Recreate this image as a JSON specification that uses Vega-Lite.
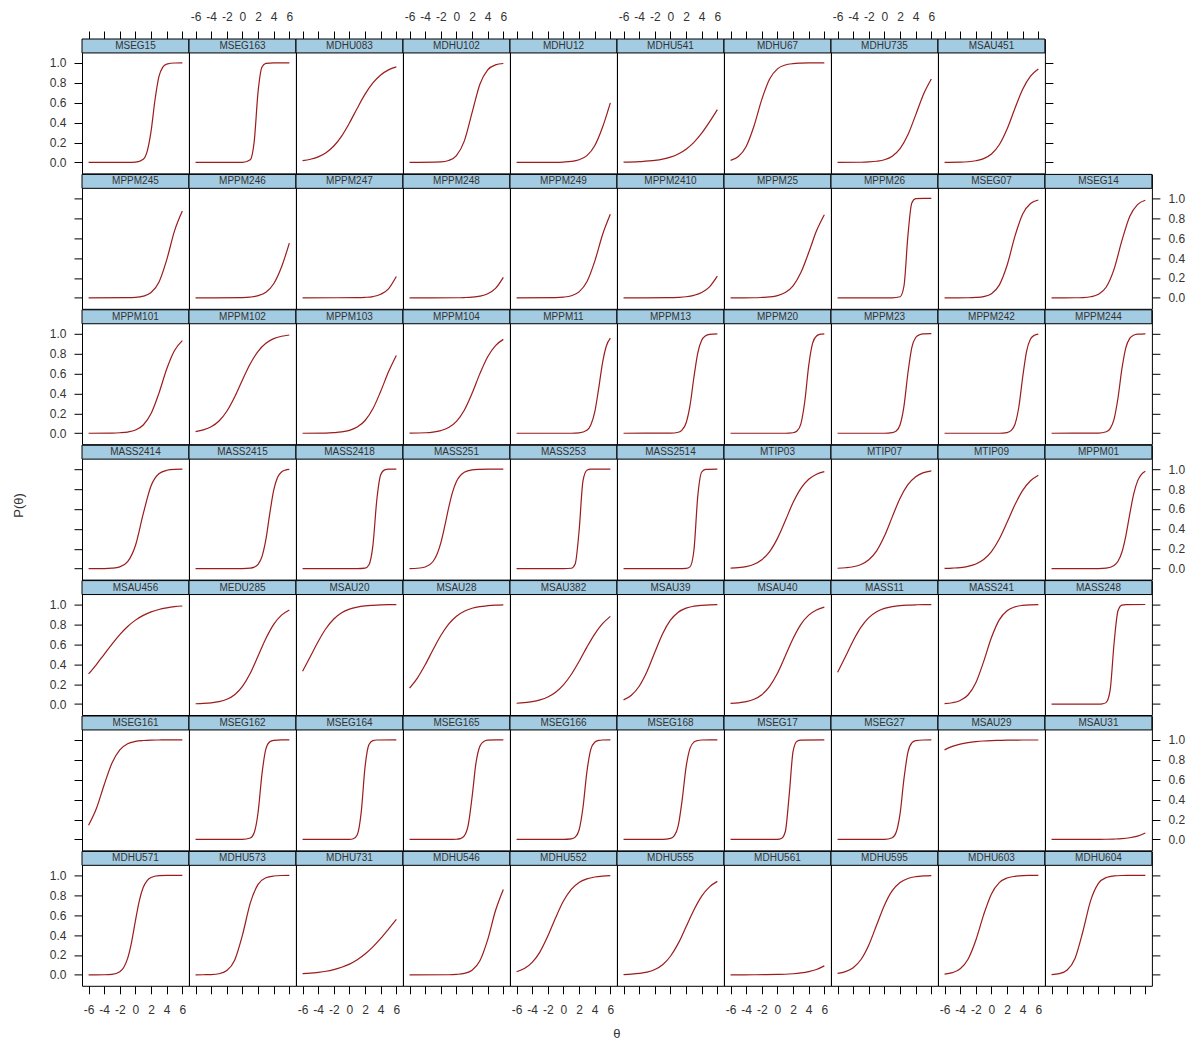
{
"$schema":"https://vega.github.io/schema/vega-lite/v6.json",
"padding":{"left":12,"top":9,"right":0,"bottom":0},
"data":{"values":[
{"i":"MSEG15","x":-6,"p":0},{"i":"MSEG15","x":-1,"p":0},{"i":"MSEG15","x":0,"p":0.003},{"i":"MSEG15","x":1,"p":0.033},{"i":"MSEG15","x":1.5,"p":0.111},{"i":"MSEG15","x":2,"p":0.314},{"i":"MSEG15","x":2.5,"p":0.627},{"i":"MSEG15","x":3,"p":0.861},{"i":"MSEG15","x":3.5,"p":0.958},{"i":"MSEG15","x":4,"p":0.988},{"i":"MSEG15","x":5,"p":0.999},{"i":"MSEG15","x":6,"p":1},
{"i":"MSEG163","x":-6,"p":0},{"i":"MSEG163","x":0,"p":0},{"i":"MSEG163","x":1,"p":0.027},{"i":"MSEG163","x":1.5,"p":0.206},{"i":"MSEG163","x":2,"p":0.711},{"i":"MSEG163","x":2.5,"p":0.959},{"i":"MSEG163","x":3,"p":0.995},{"i":"MSEG163","x":4,"p":1},{"i":"MSEG163","x":6,"p":1},
{"i":"MDHU083","x":-6,"p":0.018},{"i":"MDHU083","x":-5,"p":0.032},{"i":"MDHU083","x":-4,"p":0.056},{"i":"MDHU083","x":-3,"p":0.098},{"i":"MDHU083","x":-2,"p":0.165},{"i":"MDHU083","x":-1,"p":0.265},{"i":"MDHU083","x":0,"p":0.397},{"i":"MDHU083","x":1,"p":0.545},{"i":"MDHU083","x":2,"p":0.686},{"i":"MDHU083","x":3,"p":0.799},{"i":"MDHU083","x":4,"p":0.879},{"i":"MDHU083","x":5,"p":0.93},{"i":"MDHU083","x":6,"p":0.96},
{"i":"MDHU102","x":-6,"p":0},{"i":"MDHU102","x":-2,"p":0.005},{"i":"MDHU102","x":-1,"p":0.02},{"i":"MDHU102","x":0,"p":0.069},{"i":"MDHU102","x":1,"p":0.214},{"i":"MDHU102","x":2,"p":0.5},{"i":"MDHU102","x":3,"p":0.786},{"i":"MDHU102","x":4,"p":0.931},{"i":"MDHU102","x":5,"p":0.98},{"i":"MDHU102","x":6,"p":0.994},
{"i":"MDHU12","x":-6,"p":0},{"i":"MDHU12","x":-1,"p":0.001},{"i":"MDHU12","x":0,"p":0.004},{"i":"MDHU12","x":1,"p":0.01},{"i":"MDHU12","x":2,"p":0.027},{"i":"MDHU12","x":3,"p":0.069},{"i":"MDHU12","x":4,"p":0.168},{"i":"MDHU12","x":5,"p":0.354},{"i":"MDHU12","x":6,"p":0.599},
{"i":"MDHU541","x":-6,"p":0.003},{"i":"MDHU541","x":-4,"p":0.008},{"i":"MDHU541","x":-2,"p":0.02},{"i":"MDHU541","x":-1,"p":0.033},{"i":"MDHU541","x":0,"p":0.053},{"i":"MDHU541","x":1,"p":0.085},{"i":"MDHU541","x":2,"p":0.133},{"i":"MDHU541","x":3,"p":0.202},{"i":"MDHU541","x":4,"p":0.294},{"i":"MDHU541","x":5,"p":0.407},{"i":"MDHU541","x":6,"p":0.531},
{"i":"MDHU67","x":-6,"p":0.021},{"i":"MDHU67","x":-5,"p":0.06},{"i":"MDHU67","x":-4,"p":0.161},{"i":"MDHU67","x":-3,"p":0.366},{"i":"MDHU67","x":-2,"p":0.634},{"i":"MDHU67","x":-1,"p":0.839},{"i":"MDHU67","x":0,"p":0.94},{"i":"MDHU67","x":1,"p":0.979},{"i":"MDHU67","x":2,"p":0.993},{"i":"MDHU67","x":3,"p":0.998},{"i":"MDHU67","x":4,"p":1},{"i":"MDHU67","x":6,"p":1},
{"i":"MDHU735","x":-6,"p":0},{"i":"MDHU735","x":-3,"p":0.002},{"i":"MDHU735","x":-2,"p":0.005},{"i":"MDHU735","x":-1,"p":0.012},{"i":"MDHU735","x":0,"p":0.027},{"i":"MDHU735","x":1,"p":0.063},{"i":"MDHU735","x":2,"p":0.138},{"i":"MDHU735","x":3,"p":0.277},{"i":"MDHU735","x":4,"p":0.478},{"i":"MDHU735","x":5,"p":0.686},{"i":"MDHU735","x":6,"p":0.839},
{"i":"MSAU451","x":-6,"p":0.001},{"i":"MSAU451","x":-4,"p":0.003},{"i":"MSAU451","x":-3,"p":0.007},{"i":"MSAU451","x":-2,"p":0.017},{"i":"MSAU451","x":-1,"p":0.038},{"i":"MSAU451","x":0,"p":0.085},{"i":"MSAU451","x":1,"p":0.178},{"i":"MSAU451","x":2,"p":0.336},{"i":"MSAU451","x":3,"p":0.542},{"i":"MSAU451","x":4,"p":0.735},{"i":"MSAU451","x":5,"p":0.866},{"i":"MSAU451","x":6,"p":0.938},
{"i":"MPPM245","x":-6,"p":0},{"i":"MPPM245","x":-1,"p":0.002},{"i":"MPPM245","x":0,"p":0.005},{"i":"MPPM245","x":1,"p":0.017},{"i":"MPPM245","x":2,"p":0.053},{"i":"MPPM245","x":3,"p":0.157},{"i":"MPPM245","x":4,"p":0.382},{"i":"MPPM245","x":5,"p":0.673},{"i":"MPPM245","x":6,"p":0.872},
{"i":"MPPM246","x":-6,"p":0},{"i":"MPPM246","x":0,"p":0.003},{"i":"MPPM246","x":1,"p":0.008},{"i":"MPPM246","x":2,"p":0.022},{"i":"MPPM246","x":3,"p":0.057},{"i":"MPPM246","x":4,"p":0.142},{"i":"MPPM246","x":5,"p":0.31},{"i":"MPPM246","x":6,"p":0.55},
{"i":"MPPM247","x":-6,"p":0},{"i":"MPPM247","x":1,"p":0.002},{"i":"MPPM247","x":2,"p":0.005},{"i":"MPPM247","x":3,"p":0.013},{"i":"MPPM247","x":4,"p":0.036},{"i":"MPPM247","x":5,"p":0.091},{"i":"MPPM247","x":6,"p":0.214},
{"i":"MPPM248","x":-6,"p":0},{"i":"MPPM248","x":0,"p":0.001},{"i":"MPPM248","x":1,"p":0.003},{"i":"MPPM248","x":2,"p":0.007},{"i":"MPPM248","x":3,"p":0.017},{"i":"MPPM248","x":4,"p":0.041},{"i":"MPPM248","x":5,"p":0.095},{"i":"MPPM248","x":6,"p":0.206},
{"i":"MPPM249","x":-6,"p":0},{"i":"MPPM249","x":-1,"p":0.002},{"i":"MPPM249","x":0,"p":0.007},{"i":"MPPM249","x":1,"p":0.021},{"i":"MPPM249","x":2,"p":0.06},{"i":"MPPM249","x":3,"p":0.161},{"i":"MPPM249","x":4,"p":0.366},{"i":"MPPM249","x":5,"p":0.634},{"i":"MPPM249","x":6,"p":0.839},
{"i":"MPPM2410","x":-6,"p":0},{"i":"MPPM2410","x":0,"p":0.002},{"i":"MPPM2410","x":1,"p":0.005},{"i":"MPPM2410","x":2,"p":0.011},{"i":"MPPM2410","x":3,"p":0.025},{"i":"MPPM2410","x":4,"p":0.053},{"i":"MPPM2410","x":5,"p":0.111},{"i":"MPPM2410","x":6,"p":0.218},
{"i":"MPPM25","x":-6,"p":0},{"i":"MPPM25","x":-3,"p":0.001},{"i":"MPPM25","x":-2,"p":0.004},{"i":"MPPM25","x":-1,"p":0.009},{"i":"MPPM25","x":0,"p":0.022},{"i":"MPPM25","x":1,"p":0.053},{"i":"MPPM25","x":2,"p":0.121},{"i":"MPPM25","x":3,"p":0.254},{"i":"MPPM25","x":4,"p":0.455},{"i":"MPPM25","x":5,"p":0.673},{"i":"MPPM25","x":6,"p":0.835},
{"i":"MPPM26","x":-6,"p":0},{"i":"MPPM26","x":1,"p":0},{"i":"MPPM26","x":2,"p":0.011},{"i":"MPPM26","x":2.5,"p":0.119},{"i":"MPPM26","x":3,"p":0.622},{"i":"MPPM26","x":3.5,"p":0.953},{"i":"MPPM26","x":4,"p":0.996},{"i":"MPPM26","x":5,"p":1},{"i":"MPPM26","x":6,"p":1},
{"i":"MSEG07","x":-6,"p":0},{"i":"MSEG07","x":-3,"p":0.001},{"i":"MSEG07","x":-2,"p":0.004},{"i":"MSEG07","x":-1,"p":0.013},{"i":"MSEG07","x":0,"p":0.042},{"i":"MSEG07","x":1,"p":0.128},{"i":"MSEG07","x":2,"p":0.327},{"i":"MSEG07","x":3,"p":0.618},{"i":"MSEG07","x":4,"p":0.843},{"i":"MSEG07","x":5,"p":0.947},{"i":"MSEG07","x":6,"p":0.983},
{"i":"MSEG14","x":-6,"p":0},{"i":"MSEG14","x":-3,"p":0.001},{"i":"MSEG14","x":-2,"p":0.003},{"i":"MSEG14","x":-1,"p":0.011},{"i":"MSEG14","x":0,"p":0.036},{"i":"MSEG14","x":1,"p":0.109},{"i":"MSEG14","x":2,"p":0.289},{"i":"MSEG14","x":3,"p":0.574},{"i":"MSEG14","x":4,"p":0.818},{"i":"MSEG14","x":5,"p":0.937},{"i":"MSEG14","x":6,"p":0.98},
{"i":"MPPM101","x":-6,"p":0},{"i":"MPPM101","x":-3,"p":0.002},{"i":"MPPM101","x":-2,"p":0.005},{"i":"MPPM101","x":-1,"p":0.012},{"i":"MPPM101","x":0,"p":0.032},{"i":"MPPM101","x":1,"p":0.083},{"i":"MPPM101","x":2,"p":0.198},{"i":"MPPM101","x":3,"p":0.401},{"i":"MPPM101","x":4,"p":0.646},{"i":"MPPM101","x":5,"p":0.832},{"i":"MPPM101","x":6,"p":0.931},
{"i":"MPPM102","x":-6,"p":0.017},{"i":"MPPM102","x":-5,"p":0.034},{"i":"MPPM102","x":-4,"p":0.065},{"i":"MPPM102","x":-3,"p":0.123},{"i":"MPPM102","x":-2,"p":0.221},{"i":"MPPM102","x":-1,"p":0.364},{"i":"MPPM102","x":0,"p":0.535},{"i":"MPPM102","x":1,"p":0.698},{"i":"MPPM102","x":2,"p":0.823},{"i":"MPPM102","x":3,"p":0.904},{"i":"MPPM102","x":4,"p":0.95},{"i":"MPPM102","x":5,"p":0.974},{"i":"MPPM102","x":6,"p":0.987},
{"i":"MPPM103","x":-6,"p":0},{"i":"MPPM103","x":-3,"p":0.002},{"i":"MPPM103","x":-2,"p":0.006},{"i":"MPPM103","x":-1,"p":0.013},{"i":"MPPM103","x":0,"p":0.029},{"i":"MPPM103","x":1,"p":0.062},{"i":"MPPM103","x":2,"p":0.128},{"i":"MPPM103","x":3,"p":0.246},{"i":"MPPM103","x":4,"p":0.421},{"i":"MPPM103","x":5,"p":0.618},{"i":"MPPM103","x":6,"p":0.782},
{"i":"MPPM104","x":-6,"p":0.001},{"i":"MPPM104","x":-4,"p":0.005},{"i":"MPPM104","x":-3,"p":0.012},{"i":"MPPM104","x":-2,"p":0.027},{"i":"MPPM104","x":-1,"p":0.057},{"i":"MPPM104","x":0,"p":0.119},{"i":"MPPM104","x":1,"p":0.231},{"i":"MPPM104","x":2,"p":0.401},{"i":"MPPM104","x":3,"p":0.599},{"i":"MPPM104","x":4,"p":0.769},{"i":"MPPM104","x":5,"p":0.881},{"i":"MPPM104","x":6,"p":0.943},
{"i":"MPPM11","x":-6,"p":0},{"i":"MPPM11","x":1,"p":0},{"i":"MPPM11","x":2,"p":0.003},{"i":"MPPM11","x":3,"p":0.029},{"i":"MPPM11","x":3.5,"p":0.082},{"i":"MPPM11","x":4,"p":0.211},{"i":"MPPM11","x":4.5,"p":0.445},{"i":"MPPM11","x":5,"p":0.707},{"i":"MPPM11","x":5.5,"p":0.879},{"i":"MPPM11","x":6,"p":0.956},
{"i":"MPPM13","x":-6,"p":0},{"i":"MPPM13","x":0,"p":0.001},{"i":"MPPM13","x":1,"p":0.01},{"i":"MPPM13","x":1.5,"p":0.034},{"i":"MPPM13","x":2,"p":0.103},{"i":"MPPM13","x":2.5,"p":0.277},{"i":"MPPM13","x":3,"p":0.56},{"i":"MPPM13","x":3.5,"p":0.808},{"i":"MPPM13","x":4,"p":0.933},{"i":"MPPM13","x":4.5,"p":0.979},{"i":"MPPM13","x":5,"p":0.994},{"i":"MPPM13","x":6,"p":0.999},
{"i":"MPPM20","x":-6,"p":0},{"i":"MPPM20","x":1,"p":0},{"i":"MPPM20","x":2,"p":0.005},{"i":"MPPM20","x":2.5,"p":0.023},{"i":"MPPM20","x":3,"p":0.095},{"i":"MPPM20","x":3.5,"p":0.321},{"i":"MPPM20","x":4,"p":0.679},{"i":"MPPM20","x":4.5,"p":0.905},{"i":"MPPM20","x":5,"p":0.977},{"i":"MPPM20","x":5.5,"p":0.995},{"i":"MPPM20","x":6,"p":0.999},
{"i":"MPPM23","x":-6,"p":0},{"i":"MPPM23","x":0,"p":0},{"i":"MPPM23","x":1,"p":0.006},{"i":"MPPM23","x":1.5,"p":0.022},{"i":"MPPM23","x":2,"p":0.085},{"i":"MPPM23","x":2.5,"p":0.273},{"i":"MPPM23","x":3,"p":0.603},{"i":"MPPM23","x":3.5,"p":0.861},{"i":"MPPM23","x":4,"p":0.962},{"i":"MPPM23","x":4.5,"p":0.99},{"i":"MPPM23","x":5,"p":0.998},{"i":"MPPM23","x":6,"p":1},
{"i":"MPPM242","x":-6,"p":0},{"i":"MPPM242","x":1,"p":0},{"i":"MPPM242","x":2,"p":0.007},{"i":"MPPM242","x":2.5,"p":0.026},{"i":"MPPM242","x":3,"p":0.088},{"i":"MPPM242","x":3.5,"p":0.261},{"i":"MPPM242","x":4,"p":0.565},{"i":"MPPM242","x":4.5,"p":0.826},{"i":"MPPM242","x":5,"p":0.946},{"i":"MPPM242","x":5.5,"p":0.985},{"i":"MPPM242","x":6,"p":0.996},
{"i":"MPPM244","x":-6,"p":0},{"i":"MPPM244","x":0,"p":0.001},{"i":"MPPM244","x":1,"p":0.015},{"i":"MPPM244","x":1.5,"p":0.047},{"i":"MPPM244","x":2,"p":0.142},{"i":"MPPM244","x":2.5,"p":0.354},{"i":"MPPM244","x":3,"p":0.646},{"i":"MPPM244","x":3.5,"p":0.858},{"i":"MPPM244","x":4,"p":0.953},{"i":"MPPM244","x":4.5,"p":0.985},{"i":"MPPM244","x":5,"p":0.995},{"i":"MPPM244","x":6,"p":0.999},
{"i":"MASS2414","x":-6,"p":0},{"i":"MASS2414","x":-4,"p":0.001},{"i":"MASS2414","x":-3,"p":0.005},{"i":"MASS2414","x":-2,"p":0.018},{"i":"MASS2414","x":-1,"p":0.07},{"i":"MASS2414","x":0,"p":0.233},{"i":"MASS2414","x":1,"p":0.552},{"i":"MASS2414","x":2,"p":0.833},{"i":"MASS2414","x":3,"p":0.953},{"i":"MASS2414","x":4,"p":0.988},{"i":"MASS2414","x":5,"p":0.997},{"i":"MASS2414","x":6,"p":0.999},
{"i":"MASS2415","x":-6,"p":0},{"i":"MASS2415","x":0,"p":0.001},{"i":"MASS2415","x":1,"p":0.005},{"i":"MASS2415","x":1.5,"p":0.015},{"i":"MASS2415","x":2,"p":0.044},{"i":"MASS2415","x":2.5,"p":0.121},{"i":"MASS2415","x":3,"p":0.293},{"i":"MASS2415","x":3.5,"p":0.555},{"i":"MASS2415","x":4,"p":0.789},{"i":"MASS2415","x":4.5,"p":0.918},{"i":"MASS2415","x":5,"p":0.971},{"i":"MASS2415","x":5.5,"p":0.99},{"i":"MASS2415","x":6,"p":0.997},
{"i":"MASS2418","x":-6,"p":0},{"i":"MASS2418","x":1,"p":0},{"i":"MASS2418","x":2,"p":0.005},{"i":"MASS2418","x":2.5,"p":0.039},{"i":"MASS2418","x":3,"p":0.231},{"i":"MASS2418","x":3.5,"p":0.69},{"i":"MASS2418","x":4,"p":0.943},{"i":"MASS2418","x":4.5,"p":0.992},{"i":"MASS2418","x":5,"p":0.999},{"i":"MASS2418","x":6,"p":1},
{"i":"MASS251","x":-6,"p":0.001},{"i":"MASS251","x":-5,"p":0.004},{"i":"MASS251","x":-4,"p":0.017},{"i":"MASS251","x":-3,"p":0.072},{"i":"MASS251","x":-2.5,"p":0.142},{"i":"MASS251","x":-2,"p":0.259},{"i":"MASS251","x":-1.5,"p":0.426},{"i":"MASS251","x":-1,"p":0.611},{"i":"MASS251","x":-0.5,"p":0.769},{"i":"MASS251","x":0,"p":0.875},{"i":"MASS251","x":1,"p":0.969},{"i":"MASS251","x":2,"p":0.993},{"i":"MASS251","x":3,"p":0.998},{"i":"MASS251","x":4,"p":1},{"i":"MASS251","x":6,"p":1},
{"i":"MASS253","x":-6,"p":0},{"i":"MASS253","x":0,"p":0},{"i":"MASS253","x":1,"p":0.004},{"i":"MASS253","x":1.5,"p":0.047},{"i":"MASS253","x":2,"p":0.378},{"i":"MASS253","x":2.5,"p":0.881},{"i":"MASS253","x":3,"p":0.989},{"i":"MASS253","x":3.5,"p":0.999},{"i":"MASS253","x":6,"p":1},
{"i":"MASS2514","x":-6,"p":0},{"i":"MASS2514","x":1,"p":0},{"i":"MASS2514","x":2,"p":0.002},{"i":"MASS2514","x":2.5,"p":0.018},{"i":"MASS2514","x":3,"p":0.182},{"i":"MASS2514","x":3.5,"p":0.731},{"i":"MASS2514","x":4,"p":0.971},{"i":"MASS2514","x":4.5,"p":0.998},{"i":"MASS2514","x":6,"p":1},
{"i":"MTIP03","x":-6,"p":0.005},{"i":"MTIP03","x":-5,"p":0.01},{"i":"MTIP03","x":-4,"p":0.021},{"i":"MTIP03","x":-3,"p":0.044},{"i":"MTIP03","x":-2,"p":0.089},{"i":"MTIP03","x":-1,"p":0.171},{"i":"MTIP03","x":0,"p":0.304},{"i":"MTIP03","x":1,"p":0.48},{"i":"MTIP03","x":2,"p":0.664},{"i":"MTIP03","x":3,"p":0.807},{"i":"MTIP03","x":4,"p":0.898},{"i":"MTIP03","x":5,"p":0.949},{"i":"MTIP03","x":6,"p":0.975},
{"i":"MTIP07","x":-6,"p":0.004},{"i":"MTIP07","x":-5,"p":0.009},{"i":"MTIP07","x":-4,"p":0.019},{"i":"MTIP07","x":-3,"p":0.042},{"i":"MTIP07","x":-2,"p":0.089},{"i":"MTIP07","x":-1,"p":0.179},{"i":"MTIP07","x":0,"p":0.327},{"i":"MTIP07","x":1,"p":0.52},{"i":"MTIP07","x":2,"p":0.707},{"i":"MTIP07","x":3,"p":0.843},{"i":"MTIP07","x":4,"p":0.923},{"i":"MTIP07","x":5,"p":0.964},{"i":"MTIP07","x":6,"p":0.983},
{"i":"MTIP09","x":-6,"p":0.003},{"i":"MTIP09","x":-5,"p":0.006},{"i":"MTIP09","x":-4,"p":0.011},{"i":"MTIP09","x":-3,"p":0.023},{"i":"MTIP09","x":-2,"p":0.046},{"i":"MTIP09","x":-1,"p":0.091},{"i":"MTIP09","x":0,"p":0.171},{"i":"MTIP09","x":1,"p":0.297},{"i":"MTIP09","x":2,"p":0.465},{"i":"MTIP09","x":3,"p":0.641},{"i":"MTIP09","x":4,"p":0.786},{"i":"MTIP09","x":5,"p":0.883},{"i":"MTIP09","x":6,"p":0.939},
{"i":"MPPM01","x":-6,"p":0},{"i":"MPPM01","x":0,"p":0.001},{"i":"MPPM01","x":1,"p":0.005},{"i":"MPPM01","x":2,"p":0.032},{"i":"MPPM01","x":2.5,"p":0.074},{"i":"MPPM01","x":3,"p":0.165},{"i":"MPPM01","x":3.5,"p":0.327},{"i":"MPPM01","x":4,"p":0.545},{"i":"MPPM01","x":4.5,"p":0.746},{"i":"MPPM01","x":5,"p":0.879},{"i":"MPPM01","x":5.5,"p":0.947},{"i":"MPPM01","x":6,"p":0.978},
{"i":"MSAU456","x":-6,"p":0.302},{"i":"MSAU456","x":-5,"p":0.397},{"i":"MSAU456","x":-4,"p":0.5},{"i":"MSAU456","x":-3,"p":0.603},{"i":"MSAU456","x":-2,"p":0.698},{"i":"MSAU456","x":-1,"p":0.779},{"i":"MSAU456","x":0,"p":0.843},{"i":"MSAU456","x":1,"p":0.891},{"i":"MSAU456","x":2,"p":0.926},{"i":"MSAU456","x":3,"p":0.95},{"i":"MSAU456","x":4,"p":0.966},{"i":"MSAU456","x":5,"p":0.978},{"i":"MSAU456","x":6,"p":0.985},
{"i":"MEDU285","x":-6,"p":0.003},{"i":"MEDU285","x":-5,"p":0.006},{"i":"MEDU285","x":-4,"p":0.012},{"i":"MEDU285","x":-3,"p":0.024},{"i":"MEDU285","x":-2,"p":0.048},{"i":"MEDU285","x":-1,"p":0.094},{"i":"MEDU285","x":0,"p":0.178},{"i":"MEDU285","x":1,"p":0.31},{"i":"MEDU285","x":2,"p":0.483},{"i":"MEDU285","x":3,"p":0.659},{"i":"MEDU285","x":4,"p":0.801},{"i":"MEDU285","x":5,"p":0.893},{"i":"MEDU285","x":6,"p":0.945},
{"i":"MSAU20","x":-6,"p":0.329},{"i":"MSAU20","x":-5,"p":0.478},{"i":"MSAU20","x":-4,"p":0.629},{"i":"MSAU20","x":-3,"p":0.759},{"i":"MSAU20","x":-2,"p":0.854},{"i":"MSAU20","x":-1,"p":0.916},{"i":"MSAU20","x":0,"p":0.953},{"i":"MSAU20","x":1,"p":0.974},{"i":"MSAU20","x":2,"p":0.986},{"i":"MSAU20","x":3,"p":0.992},{"i":"MSAU20","x":4,"p":0.996},{"i":"MSAU20","x":5,"p":0.998},{"i":"MSAU20","x":6,"p":0.999},
{"i":"MSAU28","x":-6,"p":0.161},{"i":"MSAU28","x":-5,"p":0.261},{"i":"MSAU28","x":-4,"p":0.394},{"i":"MSAU28","x":-3,"p":0.545},{"i":"MSAU28","x":-2,"p":0.688},{"i":"MSAU28","x":-1,"p":0.802},{"i":"MSAU28","x":0,"p":0.882},{"i":"MSAU28","x":1,"p":0.932},{"i":"MSAU28","x":2,"p":0.962},{"i":"MSAU28","x":3,"p":0.979},{"i":"MSAU28","x":4,"p":0.988},{"i":"MSAU28","x":5,"p":0.994},{"i":"MSAU28","x":6,"p":0.997},
{"i":"MSAU382","x":-6,"p":0.008},{"i":"MSAU382","x":-5,"p":0.014},{"i":"MSAU382","x":-4,"p":0.024},{"i":"MSAU382","x":-3,"p":0.042},{"i":"MSAU382","x":-2,"p":0.071},{"i":"MSAU382","x":-1,"p":0.119},{"i":"MSAU382","x":0,"p":0.193},{"i":"MSAU382","x":1,"p":0.297},{"i":"MSAU382","x":2,"p":0.428},{"i":"MSAU382","x":3,"p":0.572},{"i":"MSAU382","x":4,"p":0.703},{"i":"MSAU382","x":5,"p":0.807},{"i":"MSAU382","x":6,"p":0.881},
{"i":"MSAU39","x":-6,"p":0.042},{"i":"MSAU39","x":-5,"p":0.089},{"i":"MSAU39","x":-4,"p":0.179},{"i":"MSAU39","x":-3,"p":0.327},{"i":"MSAU39","x":-2,"p":0.52},{"i":"MSAU39","x":-1,"p":0.707},{"i":"MSAU39","x":0,"p":0.843},{"i":"MSAU39","x":1,"p":0.923},{"i":"MSAU39","x":2,"p":0.964},{"i":"MSAU39","x":3,"p":0.983},{"i":"MSAU39","x":4,"p":0.992},{"i":"MSAU39","x":5,"p":0.997},{"i":"MSAU39","x":6,"p":0.998},
{"i":"MSAU40","x":-6,"p":0.006},{"i":"MSAU40","x":-5,"p":0.012},{"i":"MSAU40","x":-4,"p":0.024},{"i":"MSAU40","x":-3,"p":0.048},{"i":"MSAU40","x":-2,"p":0.094},{"i":"MSAU40","x":-1,"p":0.178},{"i":"MSAU40","x":0,"p":0.31},{"i":"MSAU40","x":1,"p":0.483},{"i":"MSAU40","x":2,"p":0.659},{"i":"MSAU40","x":3,"p":0.801},{"i":"MSAU40","x":4,"p":0.893},{"i":"MSAU40","x":5,"p":0.945},{"i":"MSAU40","x":6,"p":0.973},
{"i":"MASS11","x":-6,"p":0.319},{"i":"MASS11","x":-5,"p":0.475},{"i":"MASS11","x":-4,"p":0.636},{"i":"MASS11","x":-3,"p":0.772},{"i":"MASS11","x":-2,"p":0.868},{"i":"MASS11","x":-1,"p":0.927},{"i":"MASS11","x":0,"p":0.961},{"i":"MASS11","x":1,"p":0.979},{"i":"MASS11","x":2,"p":0.989},{"i":"MASS11","x":3,"p":0.994},{"i":"MASS11","x":4,"p":0.997},{"i":"MASS11","x":5,"p":0.999},{"i":"MASS11","x":6,"p":0.999},
{"i":"MASS241","x":-6,"p":0.005},{"i":"MASS241","x":-5,"p":0.013},{"i":"MASS241","x":-4,"p":0.036},{"i":"MASS241","x":-3,"p":0.091},{"i":"MASS241","x":-2,"p":0.214},{"i":"MASS241","x":-1,"p":0.426},{"i":"MASS241","x":0,"p":0.668},{"i":"MASS241","x":1,"p":0.846},{"i":"MASS241","x":2,"p":0.937},{"i":"MASS241","x":3,"p":0.976},{"i":"MASS241","x":4,"p":0.991},{"i":"MASS241","x":5,"p":0.997},{"i":"MASS241","x":6,"p":0.999},
{"i":"MASS248","x":-6,"p":0},{"i":"MASS248","x":0,"p":0},{"i":"MASS248","x":0.5,"p":0.002},{"i":"MASS248","x":1,"p":0.017},{"i":"MASS248","x":1.5,"p":0.142},{"i":"MASS248","x":2,"p":0.611},{"i":"MASS248","x":2.5,"p":0.937},{"i":"MASS248","x":3,"p":0.993},{"i":"MASS248","x":3.5,"p":0.999},{"i":"MASS248","x":6,"p":1},
{"i":"MSEG161","x":-6,"p":0.142},{"i":"MSEG161","x":-5,"p":0.31},{"i":"MSEG161","x":-4,"p":0.55},{"i":"MSEG161","x":-3,"p":0.769},{"i":"MSEG161","x":-2,"p":0.9},{"i":"MSEG161","x":-1,"p":0.961},{"i":"MSEG161","x":0,"p":0.985},{"i":"MSEG161","x":1,"p":0.994},{"i":"MSEG161","x":2,"p":0.998},{"i":"MSEG161","x":3,"p":0.999},{"i":"MSEG161","x":4,"p":1},{"i":"MSEG161","x":6,"p":1},
{"i":"MSEG162","x":-6,"p":0},{"i":"MSEG162","x":0,"p":0},{"i":"MSEG162","x":1,"p":0.014},{"i":"MSEG162","x":1.5,"p":0.067},{"i":"MSEG162","x":2,"p":0.271},{"i":"MSEG162","x":2.5,"p":0.659},{"i":"MSEG162","x":3,"p":0.91},{"i":"MSEG162","x":3.5,"p":0.981},{"i":"MSEG162","x":4,"p":0.996},{"i":"MSEG162","x":5,"p":1},{"i":"MSEG162","x":6,"p":1},
{"i":"MSEG164","x":-6,"p":0},{"i":"MSEG164","x":0,"p":0.001},{"i":"MSEG164","x":0.5,"p":0.007},{"i":"MSEG164","x":1,"p":0.047},{"i":"MSEG164","x":1.5,"p":0.269},{"i":"MSEG164","x":2,"p":0.731},{"i":"MSEG164","x":2.5,"p":0.953},{"i":"MSEG164","x":3,"p":0.993},{"i":"MSEG164","x":3.5,"p":0.999},{"i":"MSEG164","x":6,"p":1},
{"i":"MSEG165","x":-6,"p":0},{"i":"MSEG165","x":-1,"p":0},{"i":"MSEG165","x":0,"p":0.002},{"i":"MSEG165","x":0.5,"p":0.008},{"i":"MSEG165","x":1,"p":0.036},{"i":"MSEG165","x":1.5,"p":0.142},{"i":"MSEG165","x":2,"p":0.426},{"i":"MSEG165","x":2.5,"p":0.769},{"i":"MSEG165","x":3,"p":0.937},{"i":"MSEG165","x":3.5,"p":0.985},{"i":"MSEG165","x":4,"p":0.997},{"i":"MSEG165","x":5,"p":1},{"i":"MSEG165","x":6,"p":1},
{"i":"MSEG166","x":-6,"p":0},{"i":"MSEG166","x":0,"p":0},{"i":"MSEG166","x":1,"p":0.005},{"i":"MSEG166","x":1.5,"p":0.023},{"i":"MSEG166","x":2,"p":0.095},{"i":"MSEG166","x":2.5,"p":0.321},{"i":"MSEG166","x":3,"p":0.679},{"i":"MSEG166","x":3.5,"p":0.905},{"i":"MSEG166","x":4,"p":0.977},{"i":"MSEG166","x":4.5,"p":0.995},{"i":"MSEG166","x":5,"p":0.999},{"i":"MSEG166","x":6,"p":1},
{"i":"MSEG168","x":-6,"p":0},{"i":"MSEG168","x":-1,"p":0.001},{"i":"MSEG168","x":0,"p":0.01},{"i":"MSEG168","x":0.5,"p":0.038},{"i":"MSEG168","x":1,"p":0.139},{"i":"MSEG168","x":1.5,"p":0.397},{"i":"MSEG168","x":2,"p":0.727},{"i":"MSEG168","x":2.5,"p":0.915},{"i":"MSEG168","x":3,"p":0.978},{"i":"MSEG168","x":3.5,"p":0.994},{"i":"MSEG168","x":4,"p":0.999},{"i":"MSEG168","x":6,"p":1},
{"i":"MSEG17","x":-6,"p":0},{"i":"MSEG17","x":0,"p":0.001},{"i":"MSEG17","x":0.5,"p":0.009},{"i":"MSEG17","x":1,"p":0.077},{"i":"MSEG17","x":1.5,"p":0.443},{"i":"MSEG17","x":2,"p":0.884},{"i":"MSEG17","x":2.5,"p":0.986},{"i":"MSEG17","x":3,"p":0.998},{"i":"MSEG17","x":6,"p":1},
{"i":"MSEG27","x":-6,"p":0},{"i":"MSEG27","x":0,"p":0.001},{"i":"MSEG27","x":1,"p":0.017},{"i":"MSEG27","x":1.5,"p":0.072},{"i":"MSEG27","x":2,"p":0.259},{"i":"MSEG27","x":2.5,"p":0.611},{"i":"MSEG27","x":3,"p":0.875},{"i":"MSEG27","x":3.5,"p":0.969},{"i":"MSEG27","x":4,"p":0.993},{"i":"MSEG27","x":5,"p":0.999},{"i":"MSEG27","x":6,"p":1},
{"i":"MSAU29","x":-6,"p":0.9},{"i":"MSAU29","x":-5,"p":0.935},{"i":"MSAU29","x":-4,"p":0.957},{"i":"MSAU29","x":-3,"p":0.972},{"i":"MSAU29","x":-2,"p":0.982},{"i":"MSAU29","x":-1,"p":0.989},{"i":"MSAU29","x":0,"p":0.993},{"i":"MSAU29","x":1,"p":0.995},{"i":"MSAU29","x":2,"p":0.997},{"i":"MSAU29","x":3,"p":0.998},{"i":"MSAU29","x":4,"p":0.999},{"i":"MSAU29","x":6,"p":0.999},
{"i":"MSAU31","x":-6,"p":0},{"i":"MSAU31","x":0,"p":0.001},{"i":"MSAU31","x":1,"p":0.002},{"i":"MSAU31","x":2,"p":0.004},{"i":"MSAU31","x":3,"p":0.008},{"i":"MSAU31","x":4,"p":0.017},{"i":"MSAU31","x":5,"p":0.034},{"i":"MSAU31","x":6,"p":0.065},
{"i":"MDHU571","x":-6,"p":0},{"i":"MDHU571","x":-4,"p":0.001},{"i":"MDHU571","x":-3,"p":0.005},{"i":"MDHU571","x":-2,"p":0.032},{"i":"MDHU571","x":-1.5,"p":0.074},{"i":"MDHU571","x":-1,"p":0.165},{"i":"MDHU571","x":-0.5,"p":0.327},{"i":"MDHU571","x":0,"p":0.545},{"i":"MDHU571","x":0.5,"p":0.746},{"i":"MDHU571","x":1,"p":0.879},{"i":"MDHU571","x":1.5,"p":0.947},{"i":"MDHU571","x":2,"p":0.978},{"i":"MDHU571","x":3,"p":0.996},{"i":"MDHU571","x":4,"p":0.999},{"i":"MDHU571","x":6,"p":1},
{"i":"MDHU573","x":-6,"p":0},{"i":"MDHU573","x":-5,"p":0.001},{"i":"MDHU573","x":-4,"p":0.003},{"i":"MDHU573","x":-3,"p":0.011},{"i":"MDHU573","x":-2,"p":0.043},{"i":"MDHU573","x":-1,"p":0.147},{"i":"MDHU573","x":0,"p":0.399},{"i":"MDHU573","x":1,"p":0.721},{"i":"MDHU573","x":2,"p":0.909},{"i":"MDHU573","x":3,"p":0.975},{"i":"MDHU573","x":4,"p":0.993},{"i":"MDHU573","x":5,"p":0.998},{"i":"MDHU573","x":6,"p":0.999},
{"i":"MDHU731","x":-6,"p":0.012},{"i":"MDHU731","x":-5,"p":0.017},{"i":"MDHU731","x":-4,"p":0.025},{"i":"MDHU731","x":-3,"p":0.036},{"i":"MDHU731","x":-2,"p":0.053},{"i":"MDHU731","x":-1,"p":0.076},{"i":"MDHU731","x":0,"p":0.108},{"i":"MDHU731","x":1,"p":0.152},{"i":"MDHU731","x":2,"p":0.209},{"i":"MDHU731","x":3,"p":0.281},{"i":"MDHU731","x":4,"p":0.366},{"i":"MDHU731","x":5,"p":0.46},{"i":"MDHU731","x":6,"p":0.557},
{"i":"MDHU546","x":-6,"p":0},{"i":"MDHU546","x":-1,"p":0.001},{"i":"MDHU546","x":0,"p":0.005},{"i":"MDHU546","x":1,"p":0.015},{"i":"MDHU546","x":2,"p":0.047},{"i":"MDHU546","x":3,"p":0.142},{"i":"MDHU546","x":4,"p":0.354},{"i":"MDHU546","x":5,"p":0.646},{"i":"MDHU546","x":6,"p":0.858},
{"i":"MDHU552","x":-6,"p":0.031},{"i":"MDHU552","x":-5,"p":0.063},{"i":"MDHU552","x":-4,"p":0.125},{"i":"MDHU552","x":-3,"p":0.231},{"i":"MDHU552","x":-2,"p":0.389},{"i":"MDHU552","x":-1,"p":0.574},{"i":"MDHU552","x":0,"p":0.741},{"i":"MDHU552","x":1,"p":0.858},{"i":"MDHU552","x":2,"p":0.928},{"i":"MDHU552","x":3,"p":0.964},{"i":"MDHU552","x":4,"p":0.983},{"i":"MDHU552","x":5,"p":0.992},{"i":"MDHU552","x":6,"p":0.996},
{"i":"MDHU555","x":-6,"p":0.003},{"i":"MDHU555","x":-5,"p":0.007},{"i":"MDHU555","x":-4,"p":0.014},{"i":"MDHU555","x":-3,"p":0.027},{"i":"MDHU555","x":-2,"p":0.054},{"i":"MDHU555","x":-1,"p":0.102},{"i":"MDHU555","x":0,"p":0.187},{"i":"MDHU555","x":1,"p":0.316},{"i":"MDHU555","x":2,"p":0.483},{"i":"MDHU555","x":3,"p":0.652},{"i":"MDHU555","x":4,"p":0.791},{"i":"MDHU555","x":5,"p":0.884},{"i":"MDHU555","x":6,"p":0.939},
{"i":"MDHU561","x":-6,"p":0},{"i":"MDHU561","x":-3,"p":0.001},{"i":"MDHU561","x":0,"p":0.004},{"i":"MDHU561","x":1,"p":0.006},{"i":"MDHU561","x":2,"p":0.011},{"i":"MDHU561","x":3,"p":0.019},{"i":"MDHU561","x":4,"p":0.032},{"i":"MDHU561","x":5,"p":0.054},{"i":"MDHU561","x":6,"p":0.09},
{"i":"MDHU595","x":-6,"p":0.014},{"i":"MDHU595","x":-5,"p":0.032},{"i":"MDHU595","x":-4,"p":0.072},{"i":"MDHU595","x":-3,"p":0.154},{"i":"MDHU595","x":-2,"p":0.3},{"i":"MDHU595","x":-1,"p":0.5},{"i":"MDHU595","x":0,"p":0.7},{"i":"MDHU595","x":1,"p":0.846},{"i":"MDHU595","x":2,"p":0.928},{"i":"MDHU595","x":3,"p":0.968},{"i":"MDHU595","x":4,"p":0.986},{"i":"MDHU595","x":5,"p":0.994},{"i":"MDHU595","x":6,"p":0.997},
{"i":"MDHU603","x":-6,"p":0.008},{"i":"MDHU603","x":-5,"p":0.022},{"i":"MDHU603","x":-4,"p":0.061},{"i":"MDHU603","x":-3,"p":0.157},{"i":"MDHU603","x":-2,"p":0.348},{"i":"MDHU603","x":-1,"p":0.603},{"i":"MDHU603","x":0,"p":0.813},{"i":"MDHU603","x":1,"p":0.926},{"i":"MDHU603","x":2,"p":0.973},{"i":"MDHU603","x":3,"p":0.99},{"i":"MDHU603","x":4,"p":0.997},{"i":"MDHU603","x":5,"p":0.999},{"i":"MDHU603","x":6,"p":1},
{"i":"MDHU604","x":-6,"p":0.003},{"i":"MDHU604","x":-5,"p":0.013},{"i":"MDHU604","x":-4,"p":0.049},{"i":"MDHU604","x":-3,"p":0.165},{"i":"MDHU604","x":-2,"p":0.433},{"i":"MDHU604","x":-1,"p":0.746},{"i":"MDHU604","x":0,"p":0.919},{"i":"MDHU604","x":1,"p":0.978},{"i":"MDHU604","x":2,"p":0.994},{"i":"MDHU604","x":3,"p":0.998},{"i":"MDHU604","x":4,"p":0.999},{"i":"MDHU604","x":5,"p":1},{"i":"MDHU604","x":6,"p":1}
]},
"title":{"text":"P(θ)","orient":"left","offset":23,"dx":20},
"spacing":0,
"vconcat":[{
"title":{"text":"θ","orient":"bottom","offset":12},
"spacing":-0.6,
"vconcat":[
{"spacing":0,"bounds":"flush","hconcat":[
{"transform":[{"filter":{"field":"i","equal":"MSEG15"}}],"layer":[{"mark":"line","encoding":{"x":{"field":"x","type":"quantitative","scale":{"domain":[-6.84,6.84],"nice":false},"axis":{"orient":"top","values":[-6,-4,-2,0,2,4,6],"labels":false,"title":null}},"y":{"field":"p","type":"quantitative","scale":{"domain":[-0.11,1.24],"nice":false},"axis":{"orient":"left","values":[0,0.2,0.4,0.6,0.8,1],"format":".1f","title":null}}}},{"transform":[{"filter":"datum.x==-6"}],"mark":"rect","encoding":{"y":{"datum":1.1,"axis":{"orient":"left","values":[0,0.2,0.4,0.6,0.8,1],"format":".1f","title":null}},"y2":{"datum":1.24}}},{"transform":[{"filter":"datum.x==-6"}],"mark":"text","encoding":{"y":{"datum":1.17,"axis":{"orient":"left","values":[0,0.2,0.4,0.6,0.8,1],"format":".1f","title":null}},"text":{"field":"i"}}}]},
{"transform":[{"filter":{"field":"i","equal":"MSEG163"}}],"layer":[{"mark":"line","encoding":{"x":{"field":"x","type":"quantitative","scale":{"domain":[-6.84,6.84],"nice":false},"axis":{"orient":"top","values":[-6,-4,-2,0,2,4,6],"labelExpr":"''+datum.value","title":null}},"y":{"field":"p","type":"quantitative","scale":{"domain":[-0.11,1.24],"nice":false},"axis":null}}},{"transform":[{"filter":"datum.x==-6"}],"mark":"rect","encoding":{"y":{"datum":1.1,"axis":null},"y2":{"datum":1.24}}},{"transform":[{"filter":"datum.x==-6"}],"mark":"text","encoding":{"y":{"datum":1.17,"axis":null},"text":{"field":"i"}}}]},
{"transform":[{"filter":{"field":"i","equal":"MDHU083"}}],"layer":[{"mark":"line","encoding":{"x":{"field":"x","type":"quantitative","scale":{"domain":[-6.84,6.84],"nice":false},"axis":{"orient":"top","values":[-6,-4,-2,0,2,4,6],"labels":false,"title":null}},"y":{"field":"p","type":"quantitative","scale":{"domain":[-0.11,1.24],"nice":false},"axis":null}}},{"transform":[{"filter":"datum.x==-6"}],"mark":"rect","encoding":{"y":{"datum":1.1,"axis":null},"y2":{"datum":1.24}}},{"transform":[{"filter":"datum.x==-6"}],"mark":"text","encoding":{"y":{"datum":1.17,"axis":null},"text":{"field":"i"}}}]},
{"transform":[{"filter":{"field":"i","equal":"MDHU102"}}],"layer":[{"mark":"line","encoding":{"x":{"field":"x","type":"quantitative","scale":{"domain":[-6.84,6.84],"nice":false},"axis":{"orient":"top","values":[-6,-4,-2,0,2,4,6],"labelExpr":"''+datum.value","title":null}},"y":{"field":"p","type":"quantitative","scale":{"domain":[-0.11,1.24],"nice":false},"axis":null}}},{"transform":[{"filter":"datum.x==-6"}],"mark":"rect","encoding":{"y":{"datum":1.1,"axis":null},"y2":{"datum":1.24}}},{"transform":[{"filter":"datum.x==-6"}],"mark":"text","encoding":{"y":{"datum":1.17,"axis":null},"text":{"field":"i"}}}]},
{"transform":[{"filter":{"field":"i","equal":"MDHU12"}}],"layer":[{"mark":"line","encoding":{"x":{"field":"x","type":"quantitative","scale":{"domain":[-6.84,6.84],"nice":false},"axis":{"orient":"top","values":[-6,-4,-2,0,2,4,6],"labels":false,"title":null}},"y":{"field":"p","type":"quantitative","scale":{"domain":[-0.11,1.24],"nice":false},"axis":null}}},{"transform":[{"filter":"datum.x==-6"}],"mark":"rect","encoding":{"y":{"datum":1.1,"axis":null},"y2":{"datum":1.24}}},{"transform":[{"filter":"datum.x==-6"}],"mark":"text","encoding":{"y":{"datum":1.17,"axis":null},"text":{"field":"i"}}}]},
{"transform":[{"filter":{"field":"i","equal":"MDHU541"}}],"layer":[{"mark":"line","encoding":{"x":{"field":"x","type":"quantitative","scale":{"domain":[-6.84,6.84],"nice":false},"axis":{"orient":"top","values":[-6,-4,-2,0,2,4,6],"labelExpr":"''+datum.value","title":null}},"y":{"field":"p","type":"quantitative","scale":{"domain":[-0.11,1.24],"nice":false},"axis":null}}},{"transform":[{"filter":"datum.x==-6"}],"mark":"rect","encoding":{"y":{"datum":1.1,"axis":null},"y2":{"datum":1.24}}},{"transform":[{"filter":"datum.x==-6"}],"mark":"text","encoding":{"y":{"datum":1.17,"axis":null},"text":{"field":"i"}}}]},
{"transform":[{"filter":{"field":"i","equal":"MDHU67"}}],"layer":[{"mark":"line","encoding":{"x":{"field":"x","type":"quantitative","scale":{"domain":[-6.84,6.84],"nice":false},"axis":{"orient":"top","values":[-6,-4,-2,0,2,4,6],"labels":false,"title":null}},"y":{"field":"p","type":"quantitative","scale":{"domain":[-0.11,1.24],"nice":false},"axis":null}}},{"transform":[{"filter":"datum.x==-6"}],"mark":"rect","encoding":{"y":{"datum":1.1,"axis":null},"y2":{"datum":1.24}}},{"transform":[{"filter":"datum.x==-6"}],"mark":"text","encoding":{"y":{"datum":1.17,"axis":null},"text":{"field":"i"}}}]},
{"transform":[{"filter":{"field":"i","equal":"MDHU735"}}],"layer":[{"mark":"line","encoding":{"x":{"field":"x","type":"quantitative","scale":{"domain":[-6.84,6.84],"nice":false},"axis":{"orient":"top","values":[-6,-4,-2,0,2,4,6],"labelExpr":"''+datum.value","title":null}},"y":{"field":"p","type":"quantitative","scale":{"domain":[-0.11,1.24],"nice":false},"axis":null}}},{"transform":[{"filter":"datum.x==-6"}],"mark":"rect","encoding":{"y":{"datum":1.1,"axis":null},"y2":{"datum":1.24}}},{"transform":[{"filter":"datum.x==-6"}],"mark":"text","encoding":{"y":{"datum":1.17,"axis":null},"text":{"field":"i"}}}]},
{"transform":[{"filter":{"field":"i","equal":"MSAU451"}}],"layer":[{"mark":"line","encoding":{"x":{"field":"x","type":"quantitative","scale":{"domain":[-6.84,6.84],"nice":false},"axis":{"orient":"top","values":[-6,-4,-2,0,2,4,6],"labels":false,"title":null}},"y":{"field":"p","type":"quantitative","scale":{"domain":[-0.11,1.24],"nice":false},"axis":{"orient":"right","values":[0,0.2,0.4,0.6,0.8,1],"labels":false,"title":null}}}},{"transform":[{"filter":"datum.x==-6"}],"mark":"rect","encoding":{"y":{"datum":1.1,"axis":{"orient":"right","values":[0,0.2,0.4,0.6,0.8,1],"labels":false,"title":null}},"y2":{"datum":1.24}}},{"transform":[{"filter":"datum.x==-6"}],"mark":"text","encoding":{"y":{"datum":1.17,"axis":{"orient":"right","values":[0,0.2,0.4,0.6,0.8,1],"labels":false,"title":null}},"text":{"field":"i"}}}]}
]},
{"spacing":0,"bounds":"flush","hconcat":[
{"transform":[{"filter":{"field":"i","equal":"MPPM245"}}],"layer":[{"mark":"line","encoding":{"x":{"field":"x","type":"quantitative","scale":{"domain":[-6.84,6.84],"nice":false},"axis":null},"y":{"field":"p","type":"quantitative","scale":{"domain":[-0.11,1.24],"nice":false},"axis":{"orient":"left","values":[0,0.2,0.4,0.6,0.8,1],"labels":false,"title":null}}}},{"transform":[{"filter":"datum.x==-6"}],"mark":"rect","encoding":{"y":{"datum":1.1,"axis":{"orient":"left","values":[0,0.2,0.4,0.6,0.8,1],"labels":false,"title":null}},"y2":{"datum":1.24}}},{"transform":[{"filter":"datum.x==-6"}],"mark":"text","encoding":{"y":{"datum":1.17,"axis":{"orient":"left","values":[0,0.2,0.4,0.6,0.8,1],"labels":false,"title":null}},"text":{"field":"i"}}}]},
{"transform":[{"filter":{"field":"i","equal":"MPPM246"}}],"layer":[{"mark":"line","encoding":{"x":{"field":"x","type":"quantitative","scale":{"domain":[-6.84,6.84],"nice":false},"axis":null},"y":{"field":"p","type":"quantitative","scale":{"domain":[-0.11,1.24],"nice":false},"axis":null}}},{"transform":[{"filter":"datum.x==-6"}],"mark":"rect","encoding":{"y":{"datum":1.1,"axis":null},"y2":{"datum":1.24}}},{"transform":[{"filter":"datum.x==-6"}],"mark":"text","encoding":{"y":{"datum":1.17,"axis":null},"text":{"field":"i"}}}]},
{"transform":[{"filter":{"field":"i","equal":"MPPM247"}}],"layer":[{"mark":"line","encoding":{"x":{"field":"x","type":"quantitative","scale":{"domain":[-6.84,6.84],"nice":false},"axis":null},"y":{"field":"p","type":"quantitative","scale":{"domain":[-0.11,1.24],"nice":false},"axis":null}}},{"transform":[{"filter":"datum.x==-6"}],"mark":"rect","encoding":{"y":{"datum":1.1,"axis":null},"y2":{"datum":1.24}}},{"transform":[{"filter":"datum.x==-6"}],"mark":"text","encoding":{"y":{"datum":1.17,"axis":null},"text":{"field":"i"}}}]},
{"transform":[{"filter":{"field":"i","equal":"MPPM248"}}],"layer":[{"mark":"line","encoding":{"x":{"field":"x","type":"quantitative","scale":{"domain":[-6.84,6.84],"nice":false},"axis":null},"y":{"field":"p","type":"quantitative","scale":{"domain":[-0.11,1.24],"nice":false},"axis":null}}},{"transform":[{"filter":"datum.x==-6"}],"mark":"rect","encoding":{"y":{"datum":1.1,"axis":null},"y2":{"datum":1.24}}},{"transform":[{"filter":"datum.x==-6"}],"mark":"text","encoding":{"y":{"datum":1.17,"axis":null},"text":{"field":"i"}}}]},
{"transform":[{"filter":{"field":"i","equal":"MPPM249"}}],"layer":[{"mark":"line","encoding":{"x":{"field":"x","type":"quantitative","scale":{"domain":[-6.84,6.84],"nice":false},"axis":null},"y":{"field":"p","type":"quantitative","scale":{"domain":[-0.11,1.24],"nice":false},"axis":null}}},{"transform":[{"filter":"datum.x==-6"}],"mark":"rect","encoding":{"y":{"datum":1.1,"axis":null},"y2":{"datum":1.24}}},{"transform":[{"filter":"datum.x==-6"}],"mark":"text","encoding":{"y":{"datum":1.17,"axis":null},"text":{"field":"i"}}}]},
{"transform":[{"filter":{"field":"i","equal":"MPPM2410"}}],"layer":[{"mark":"line","encoding":{"x":{"field":"x","type":"quantitative","scale":{"domain":[-6.84,6.84],"nice":false},"axis":null},"y":{"field":"p","type":"quantitative","scale":{"domain":[-0.11,1.24],"nice":false},"axis":null}}},{"transform":[{"filter":"datum.x==-6"}],"mark":"rect","encoding":{"y":{"datum":1.1,"axis":null},"y2":{"datum":1.24}}},{"transform":[{"filter":"datum.x==-6"}],"mark":"text","encoding":{"y":{"datum":1.17,"axis":null},"text":{"field":"i"}}}]},
{"transform":[{"filter":{"field":"i","equal":"MPPM25"}}],"layer":[{"mark":"line","encoding":{"x":{"field":"x","type":"quantitative","scale":{"domain":[-6.84,6.84],"nice":false},"axis":null},"y":{"field":"p","type":"quantitative","scale":{"domain":[-0.11,1.24],"nice":false},"axis":null}}},{"transform":[{"filter":"datum.x==-6"}],"mark":"rect","encoding":{"y":{"datum":1.1,"axis":null},"y2":{"datum":1.24}}},{"transform":[{"filter":"datum.x==-6"}],"mark":"text","encoding":{"y":{"datum":1.17,"axis":null},"text":{"field":"i"}}}]},
{"transform":[{"filter":{"field":"i","equal":"MPPM26"}}],"layer":[{"mark":"line","encoding":{"x":{"field":"x","type":"quantitative","scale":{"domain":[-6.84,6.84],"nice":false},"axis":null},"y":{"field":"p","type":"quantitative","scale":{"domain":[-0.11,1.24],"nice":false},"axis":null}}},{"transform":[{"filter":"datum.x==-6"}],"mark":"rect","encoding":{"y":{"datum":1.1,"axis":null},"y2":{"datum":1.24}}},{"transform":[{"filter":"datum.x==-6"}],"mark":"text","encoding":{"y":{"datum":1.17,"axis":null},"text":{"field":"i"}}}]},
{"transform":[{"filter":{"field":"i","equal":"MSEG07"}}],"layer":[{"mark":"line","encoding":{"x":{"field":"x","type":"quantitative","scale":{"domain":[-6.84,6.84],"nice":false},"axis":null},"y":{"field":"p","type":"quantitative","scale":{"domain":[-0.11,1.24],"nice":false},"axis":null}}},{"transform":[{"filter":"datum.x==-6"}],"mark":"rect","encoding":{"y":{"datum":1.1,"axis":null},"y2":{"datum":1.24}}},{"transform":[{"filter":"datum.x==-6"}],"mark":"text","encoding":{"y":{"datum":1.17,"axis":null},"text":{"field":"i"}}}]},
{"transform":[{"filter":{"field":"i","equal":"MSEG14"}}],"layer":[{"mark":"line","encoding":{"x":{"field":"x","type":"quantitative","scale":{"domain":[-6.84,6.84],"nice":false},"axis":null},"y":{"field":"p","type":"quantitative","scale":{"domain":[-0.11,1.24],"nice":false},"axis":{"orient":"right","values":[0,0.2,0.4,0.6,0.8,1],"format":".1f","title":null}}}},{"transform":[{"filter":"datum.x==-6"}],"mark":"rect","encoding":{"y":{"datum":1.1,"axis":{"orient":"right","values":[0,0.2,0.4,0.6,0.8,1],"format":".1f","title":null}},"y2":{"datum":1.24}}},{"transform":[{"filter":"datum.x==-6"}],"mark":"text","encoding":{"y":{"datum":1.17,"axis":{"orient":"right","values":[0,0.2,0.4,0.6,0.8,1],"format":".1f","title":null}},"text":{"field":"i"}}}]}
]},
{"spacing":0,"bounds":"flush","hconcat":[
{"transform":[{"filter":{"field":"i","equal":"MPPM101"}}],"layer":[{"mark":"line","encoding":{"x":{"field":"x","type":"quantitative","scale":{"domain":[-6.84,6.84],"nice":false},"axis":null},"y":{"field":"p","type":"quantitative","scale":{"domain":[-0.11,1.24],"nice":false},"axis":{"orient":"left","values":[0,0.2,0.4,0.6,0.8,1],"format":".1f","title":null}}}},{"transform":[{"filter":"datum.x==-6"}],"mark":"rect","encoding":{"y":{"datum":1.1,"axis":{"orient":"left","values":[0,0.2,0.4,0.6,0.8,1],"format":".1f","title":null}},"y2":{"datum":1.24}}},{"transform":[{"filter":"datum.x==-6"}],"mark":"text","encoding":{"y":{"datum":1.17,"axis":{"orient":"left","values":[0,0.2,0.4,0.6,0.8,1],"format":".1f","title":null}},"text":{"field":"i"}}}]},
{"transform":[{"filter":{"field":"i","equal":"MPPM102"}}],"layer":[{"mark":"line","encoding":{"x":{"field":"x","type":"quantitative","scale":{"domain":[-6.84,6.84],"nice":false},"axis":null},"y":{"field":"p","type":"quantitative","scale":{"domain":[-0.11,1.24],"nice":false},"axis":null}}},{"transform":[{"filter":"datum.x==-6"}],"mark":"rect","encoding":{"y":{"datum":1.1,"axis":null},"y2":{"datum":1.24}}},{"transform":[{"filter":"datum.x==-6"}],"mark":"text","encoding":{"y":{"datum":1.17,"axis":null},"text":{"field":"i"}}}]},
{"transform":[{"filter":{"field":"i","equal":"MPPM103"}}],"layer":[{"mark":"line","encoding":{"x":{"field":"x","type":"quantitative","scale":{"domain":[-6.84,6.84],"nice":false},"axis":null},"y":{"field":"p","type":"quantitative","scale":{"domain":[-0.11,1.24],"nice":false},"axis":null}}},{"transform":[{"filter":"datum.x==-6"}],"mark":"rect","encoding":{"y":{"datum":1.1,"axis":null},"y2":{"datum":1.24}}},{"transform":[{"filter":"datum.x==-6"}],"mark":"text","encoding":{"y":{"datum":1.17,"axis":null},"text":{"field":"i"}}}]},
{"transform":[{"filter":{"field":"i","equal":"MPPM104"}}],"layer":[{"mark":"line","encoding":{"x":{"field":"x","type":"quantitative","scale":{"domain":[-6.84,6.84],"nice":false},"axis":null},"y":{"field":"p","type":"quantitative","scale":{"domain":[-0.11,1.24],"nice":false},"axis":null}}},{"transform":[{"filter":"datum.x==-6"}],"mark":"rect","encoding":{"y":{"datum":1.1,"axis":null},"y2":{"datum":1.24}}},{"transform":[{"filter":"datum.x==-6"}],"mark":"text","encoding":{"y":{"datum":1.17,"axis":null},"text":{"field":"i"}}}]},
{"transform":[{"filter":{"field":"i","equal":"MPPM11"}}],"layer":[{"mark":"line","encoding":{"x":{"field":"x","type":"quantitative","scale":{"domain":[-6.84,6.84],"nice":false},"axis":null},"y":{"field":"p","type":"quantitative","scale":{"domain":[-0.11,1.24],"nice":false},"axis":null}}},{"transform":[{"filter":"datum.x==-6"}],"mark":"rect","encoding":{"y":{"datum":1.1,"axis":null},"y2":{"datum":1.24}}},{"transform":[{"filter":"datum.x==-6"}],"mark":"text","encoding":{"y":{"datum":1.17,"axis":null},"text":{"field":"i"}}}]},
{"transform":[{"filter":{"field":"i","equal":"MPPM13"}}],"layer":[{"mark":"line","encoding":{"x":{"field":"x","type":"quantitative","scale":{"domain":[-6.84,6.84],"nice":false},"axis":null},"y":{"field":"p","type":"quantitative","scale":{"domain":[-0.11,1.24],"nice":false},"axis":null}}},{"transform":[{"filter":"datum.x==-6"}],"mark":"rect","encoding":{"y":{"datum":1.1,"axis":null},"y2":{"datum":1.24}}},{"transform":[{"filter":"datum.x==-6"}],"mark":"text","encoding":{"y":{"datum":1.17,"axis":null},"text":{"field":"i"}}}]},
{"transform":[{"filter":{"field":"i","equal":"MPPM20"}}],"layer":[{"mark":"line","encoding":{"x":{"field":"x","type":"quantitative","scale":{"domain":[-6.84,6.84],"nice":false},"axis":null},"y":{"field":"p","type":"quantitative","scale":{"domain":[-0.11,1.24],"nice":false},"axis":null}}},{"transform":[{"filter":"datum.x==-6"}],"mark":"rect","encoding":{"y":{"datum":1.1,"axis":null},"y2":{"datum":1.24}}},{"transform":[{"filter":"datum.x==-6"}],"mark":"text","encoding":{"y":{"datum":1.17,"axis":null},"text":{"field":"i"}}}]},
{"transform":[{"filter":{"field":"i","equal":"MPPM23"}}],"layer":[{"mark":"line","encoding":{"x":{"field":"x","type":"quantitative","scale":{"domain":[-6.84,6.84],"nice":false},"axis":null},"y":{"field":"p","type":"quantitative","scale":{"domain":[-0.11,1.24],"nice":false},"axis":null}}},{"transform":[{"filter":"datum.x==-6"}],"mark":"rect","encoding":{"y":{"datum":1.1,"axis":null},"y2":{"datum":1.24}}},{"transform":[{"filter":"datum.x==-6"}],"mark":"text","encoding":{"y":{"datum":1.17,"axis":null},"text":{"field":"i"}}}]},
{"transform":[{"filter":{"field":"i","equal":"MPPM242"}}],"layer":[{"mark":"line","encoding":{"x":{"field":"x","type":"quantitative","scale":{"domain":[-6.84,6.84],"nice":false},"axis":null},"y":{"field":"p","type":"quantitative","scale":{"domain":[-0.11,1.24],"nice":false},"axis":null}}},{"transform":[{"filter":"datum.x==-6"}],"mark":"rect","encoding":{"y":{"datum":1.1,"axis":null},"y2":{"datum":1.24}}},{"transform":[{"filter":"datum.x==-6"}],"mark":"text","encoding":{"y":{"datum":1.17,"axis":null},"text":{"field":"i"}}}]},
{"transform":[{"filter":{"field":"i","equal":"MPPM244"}}],"layer":[{"mark":"line","encoding":{"x":{"field":"x","type":"quantitative","scale":{"domain":[-6.84,6.84],"nice":false},"axis":null},"y":{"field":"p","type":"quantitative","scale":{"domain":[-0.11,1.24],"nice":false},"axis":{"orient":"right","values":[0,0.2,0.4,0.6,0.8,1],"labels":false,"title":null}}}},{"transform":[{"filter":"datum.x==-6"}],"mark":"rect","encoding":{"y":{"datum":1.1,"axis":{"orient":"right","values":[0,0.2,0.4,0.6,0.8,1],"labels":false,"title":null}},"y2":{"datum":1.24}}},{"transform":[{"filter":"datum.x==-6"}],"mark":"text","encoding":{"y":{"datum":1.17,"axis":{"orient":"right","values":[0,0.2,0.4,0.6,0.8,1],"labels":false,"title":null}},"text":{"field":"i"}}}]}
]},
{"spacing":0,"bounds":"flush","hconcat":[
{"transform":[{"filter":{"field":"i","equal":"MASS2414"}}],"layer":[{"mark":"line","encoding":{"x":{"field":"x","type":"quantitative","scale":{"domain":[-6.84,6.84],"nice":false},"axis":null},"y":{"field":"p","type":"quantitative","scale":{"domain":[-0.11,1.24],"nice":false},"axis":{"orient":"left","values":[0,0.2,0.4,0.6,0.8,1],"labels":false,"title":null}}}},{"transform":[{"filter":"datum.x==-6"}],"mark":"rect","encoding":{"y":{"datum":1.1,"axis":{"orient":"left","values":[0,0.2,0.4,0.6,0.8,1],"labels":false,"title":null}},"y2":{"datum":1.24}}},{"transform":[{"filter":"datum.x==-6"}],"mark":"text","encoding":{"y":{"datum":1.17,"axis":{"orient":"left","values":[0,0.2,0.4,0.6,0.8,1],"labels":false,"title":null}},"text":{"field":"i"}}}]},
{"transform":[{"filter":{"field":"i","equal":"MASS2415"}}],"layer":[{"mark":"line","encoding":{"x":{"field":"x","type":"quantitative","scale":{"domain":[-6.84,6.84],"nice":false},"axis":null},"y":{"field":"p","type":"quantitative","scale":{"domain":[-0.11,1.24],"nice":false},"axis":null}}},{"transform":[{"filter":"datum.x==-6"}],"mark":"rect","encoding":{"y":{"datum":1.1,"axis":null},"y2":{"datum":1.24}}},{"transform":[{"filter":"datum.x==-6"}],"mark":"text","encoding":{"y":{"datum":1.17,"axis":null},"text":{"field":"i"}}}]},
{"transform":[{"filter":{"field":"i","equal":"MASS2418"}}],"layer":[{"mark":"line","encoding":{"x":{"field":"x","type":"quantitative","scale":{"domain":[-6.84,6.84],"nice":false},"axis":null},"y":{"field":"p","type":"quantitative","scale":{"domain":[-0.11,1.24],"nice":false},"axis":null}}},{"transform":[{"filter":"datum.x==-6"}],"mark":"rect","encoding":{"y":{"datum":1.1,"axis":null},"y2":{"datum":1.24}}},{"transform":[{"filter":"datum.x==-6"}],"mark":"text","encoding":{"y":{"datum":1.17,"axis":null},"text":{"field":"i"}}}]},
{"transform":[{"filter":{"field":"i","equal":"MASS251"}}],"layer":[{"mark":"line","encoding":{"x":{"field":"x","type":"quantitative","scale":{"domain":[-6.84,6.84],"nice":false},"axis":null},"y":{"field":"p","type":"quantitative","scale":{"domain":[-0.11,1.24],"nice":false},"axis":null}}},{"transform":[{"filter":"datum.x==-6"}],"mark":"rect","encoding":{"y":{"datum":1.1,"axis":null},"y2":{"datum":1.24}}},{"transform":[{"filter":"datum.x==-6"}],"mark":"text","encoding":{"y":{"datum":1.17,"axis":null},"text":{"field":"i"}}}]},
{"transform":[{"filter":{"field":"i","equal":"MASS253"}}],"layer":[{"mark":"line","encoding":{"x":{"field":"x","type":"quantitative","scale":{"domain":[-6.84,6.84],"nice":false},"axis":null},"y":{"field":"p","type":"quantitative","scale":{"domain":[-0.11,1.24],"nice":false},"axis":null}}},{"transform":[{"filter":"datum.x==-6"}],"mark":"rect","encoding":{"y":{"datum":1.1,"axis":null},"y2":{"datum":1.24}}},{"transform":[{"filter":"datum.x==-6"}],"mark":"text","encoding":{"y":{"datum":1.17,"axis":null},"text":{"field":"i"}}}]},
{"transform":[{"filter":{"field":"i","equal":"MASS2514"}}],"layer":[{"mark":"line","encoding":{"x":{"field":"x","type":"quantitative","scale":{"domain":[-6.84,6.84],"nice":false},"axis":null},"y":{"field":"p","type":"quantitative","scale":{"domain":[-0.11,1.24],"nice":false},"axis":null}}},{"transform":[{"filter":"datum.x==-6"}],"mark":"rect","encoding":{"y":{"datum":1.1,"axis":null},"y2":{"datum":1.24}}},{"transform":[{"filter":"datum.x==-6"}],"mark":"text","encoding":{"y":{"datum":1.17,"axis":null},"text":{"field":"i"}}}]},
{"transform":[{"filter":{"field":"i","equal":"MTIP03"}}],"layer":[{"mark":"line","encoding":{"x":{"field":"x","type":"quantitative","scale":{"domain":[-6.84,6.84],"nice":false},"axis":null},"y":{"field":"p","type":"quantitative","scale":{"domain":[-0.11,1.24],"nice":false},"axis":null}}},{"transform":[{"filter":"datum.x==-6"}],"mark":"rect","encoding":{"y":{"datum":1.1,"axis":null},"y2":{"datum":1.24}}},{"transform":[{"filter":"datum.x==-6"}],"mark":"text","encoding":{"y":{"datum":1.17,"axis":null},"text":{"field":"i"}}}]},
{"transform":[{"filter":{"field":"i","equal":"MTIP07"}}],"layer":[{"mark":"line","encoding":{"x":{"field":"x","type":"quantitative","scale":{"domain":[-6.84,6.84],"nice":false},"axis":null},"y":{"field":"p","type":"quantitative","scale":{"domain":[-0.11,1.24],"nice":false},"axis":null}}},{"transform":[{"filter":"datum.x==-6"}],"mark":"rect","encoding":{"y":{"datum":1.1,"axis":null},"y2":{"datum":1.24}}},{"transform":[{"filter":"datum.x==-6"}],"mark":"text","encoding":{"y":{"datum":1.17,"axis":null},"text":{"field":"i"}}}]},
{"transform":[{"filter":{"field":"i","equal":"MTIP09"}}],"layer":[{"mark":"line","encoding":{"x":{"field":"x","type":"quantitative","scale":{"domain":[-6.84,6.84],"nice":false},"axis":null},"y":{"field":"p","type":"quantitative","scale":{"domain":[-0.11,1.24],"nice":false},"axis":null}}},{"transform":[{"filter":"datum.x==-6"}],"mark":"rect","encoding":{"y":{"datum":1.1,"axis":null},"y2":{"datum":1.24}}},{"transform":[{"filter":"datum.x==-6"}],"mark":"text","encoding":{"y":{"datum":1.17,"axis":null},"text":{"field":"i"}}}]},
{"transform":[{"filter":{"field":"i","equal":"MPPM01"}}],"layer":[{"mark":"line","encoding":{"x":{"field":"x","type":"quantitative","scale":{"domain":[-6.84,6.84],"nice":false},"axis":null},"y":{"field":"p","type":"quantitative","scale":{"domain":[-0.11,1.24],"nice":false},"axis":{"orient":"right","values":[0,0.2,0.4,0.6,0.8,1],"format":".1f","title":null}}}},{"transform":[{"filter":"datum.x==-6"}],"mark":"rect","encoding":{"y":{"datum":1.1,"axis":{"orient":"right","values":[0,0.2,0.4,0.6,0.8,1],"format":".1f","title":null}},"y2":{"datum":1.24}}},{"transform":[{"filter":"datum.x==-6"}],"mark":"text","encoding":{"y":{"datum":1.17,"axis":{"orient":"right","values":[0,0.2,0.4,0.6,0.8,1],"format":".1f","title":null}},"text":{"field":"i"}}}]}
]},
{"spacing":0,"bounds":"flush","hconcat":[
{"transform":[{"filter":{"field":"i","equal":"MSAU456"}}],"layer":[{"mark":"line","encoding":{"x":{"field":"x","type":"quantitative","scale":{"domain":[-6.84,6.84],"nice":false},"axis":null},"y":{"field":"p","type":"quantitative","scale":{"domain":[-0.11,1.24],"nice":false},"axis":{"orient":"left","values":[0,0.2,0.4,0.6,0.8,1],"format":".1f","title":null}}}},{"transform":[{"filter":"datum.x==-6"}],"mark":"rect","encoding":{"y":{"datum":1.1,"axis":{"orient":"left","values":[0,0.2,0.4,0.6,0.8,1],"format":".1f","title":null}},"y2":{"datum":1.24}}},{"transform":[{"filter":"datum.x==-6"}],"mark":"text","encoding":{"y":{"datum":1.17,"axis":{"orient":"left","values":[0,0.2,0.4,0.6,0.8,1],"format":".1f","title":null}},"text":{"field":"i"}}}]},
{"transform":[{"filter":{"field":"i","equal":"MEDU285"}}],"layer":[{"mark":"line","encoding":{"x":{"field":"x","type":"quantitative","scale":{"domain":[-6.84,6.84],"nice":false},"axis":null},"y":{"field":"p","type":"quantitative","scale":{"domain":[-0.11,1.24],"nice":false},"axis":null}}},{"transform":[{"filter":"datum.x==-6"}],"mark":"rect","encoding":{"y":{"datum":1.1,"axis":null},"y2":{"datum":1.24}}},{"transform":[{"filter":"datum.x==-6"}],"mark":"text","encoding":{"y":{"datum":1.17,"axis":null},"text":{"field":"i"}}}]},
{"transform":[{"filter":{"field":"i","equal":"MSAU20"}}],"layer":[{"mark":"line","encoding":{"x":{"field":"x","type":"quantitative","scale":{"domain":[-6.84,6.84],"nice":false},"axis":null},"y":{"field":"p","type":"quantitative","scale":{"domain":[-0.11,1.24],"nice":false},"axis":null}}},{"transform":[{"filter":"datum.x==-6"}],"mark":"rect","encoding":{"y":{"datum":1.1,"axis":null},"y2":{"datum":1.24}}},{"transform":[{"filter":"datum.x==-6"}],"mark":"text","encoding":{"y":{"datum":1.17,"axis":null},"text":{"field":"i"}}}]},
{"transform":[{"filter":{"field":"i","equal":"MSAU28"}}],"layer":[{"mark":"line","encoding":{"x":{"field":"x","type":"quantitative","scale":{"domain":[-6.84,6.84],"nice":false},"axis":null},"y":{"field":"p","type":"quantitative","scale":{"domain":[-0.11,1.24],"nice":false},"axis":null}}},{"transform":[{"filter":"datum.x==-6"}],"mark":"rect","encoding":{"y":{"datum":1.1,"axis":null},"y2":{"datum":1.24}}},{"transform":[{"filter":"datum.x==-6"}],"mark":"text","encoding":{"y":{"datum":1.17,"axis":null},"text":{"field":"i"}}}]},
{"transform":[{"filter":{"field":"i","equal":"MSAU382"}}],"layer":[{"mark":"line","encoding":{"x":{"field":"x","type":"quantitative","scale":{"domain":[-6.84,6.84],"nice":false},"axis":null},"y":{"field":"p","type":"quantitative","scale":{"domain":[-0.11,1.24],"nice":false},"axis":null}}},{"transform":[{"filter":"datum.x==-6"}],"mark":"rect","encoding":{"y":{"datum":1.1,"axis":null},"y2":{"datum":1.24}}},{"transform":[{"filter":"datum.x==-6"}],"mark":"text","encoding":{"y":{"datum":1.17,"axis":null},"text":{"field":"i"}}}]},
{"transform":[{"filter":{"field":"i","equal":"MSAU39"}}],"layer":[{"mark":"line","encoding":{"x":{"field":"x","type":"quantitative","scale":{"domain":[-6.84,6.84],"nice":false},"axis":null},"y":{"field":"p","type":"quantitative","scale":{"domain":[-0.11,1.24],"nice":false},"axis":null}}},{"transform":[{"filter":"datum.x==-6"}],"mark":"rect","encoding":{"y":{"datum":1.1,"axis":null},"y2":{"datum":1.24}}},{"transform":[{"filter":"datum.x==-6"}],"mark":"text","encoding":{"y":{"datum":1.17,"axis":null},"text":{"field":"i"}}}]},
{"transform":[{"filter":{"field":"i","equal":"MSAU40"}}],"layer":[{"mark":"line","encoding":{"x":{"field":"x","type":"quantitative","scale":{"domain":[-6.84,6.84],"nice":false},"axis":null},"y":{"field":"p","type":"quantitative","scale":{"domain":[-0.11,1.24],"nice":false},"axis":null}}},{"transform":[{"filter":"datum.x==-6"}],"mark":"rect","encoding":{"y":{"datum":1.1,"axis":null},"y2":{"datum":1.24}}},{"transform":[{"filter":"datum.x==-6"}],"mark":"text","encoding":{"y":{"datum":1.17,"axis":null},"text":{"field":"i"}}}]},
{"transform":[{"filter":{"field":"i","equal":"MASS11"}}],"layer":[{"mark":"line","encoding":{"x":{"field":"x","type":"quantitative","scale":{"domain":[-6.84,6.84],"nice":false},"axis":null},"y":{"field":"p","type":"quantitative","scale":{"domain":[-0.11,1.24],"nice":false},"axis":null}}},{"transform":[{"filter":"datum.x==-6"}],"mark":"rect","encoding":{"y":{"datum":1.1,"axis":null},"y2":{"datum":1.24}}},{"transform":[{"filter":"datum.x==-6"}],"mark":"text","encoding":{"y":{"datum":1.17,"axis":null},"text":{"field":"i"}}}]},
{"transform":[{"filter":{"field":"i","equal":"MASS241"}}],"layer":[{"mark":"line","encoding":{"x":{"field":"x","type":"quantitative","scale":{"domain":[-6.84,6.84],"nice":false},"axis":null},"y":{"field":"p","type":"quantitative","scale":{"domain":[-0.11,1.24],"nice":false},"axis":null}}},{"transform":[{"filter":"datum.x==-6"}],"mark":"rect","encoding":{"y":{"datum":1.1,"axis":null},"y2":{"datum":1.24}}},{"transform":[{"filter":"datum.x==-6"}],"mark":"text","encoding":{"y":{"datum":1.17,"axis":null},"text":{"field":"i"}}}]},
{"transform":[{"filter":{"field":"i","equal":"MASS248"}}],"layer":[{"mark":"line","encoding":{"x":{"field":"x","type":"quantitative","scale":{"domain":[-6.84,6.84],"nice":false},"axis":null},"y":{"field":"p","type":"quantitative","scale":{"domain":[-0.11,1.24],"nice":false},"axis":{"orient":"right","values":[0,0.2,0.4,0.6,0.8,1],"labels":false,"title":null}}}},{"transform":[{"filter":"datum.x==-6"}],"mark":"rect","encoding":{"y":{"datum":1.1,"axis":{"orient":"right","values":[0,0.2,0.4,0.6,0.8,1],"labels":false,"title":null}},"y2":{"datum":1.24}}},{"transform":[{"filter":"datum.x==-6"}],"mark":"text","encoding":{"y":{"datum":1.17,"axis":{"orient":"right","values":[0,0.2,0.4,0.6,0.8,1],"labels":false,"title":null}},"text":{"field":"i"}}}]}
]},
{"spacing":0,"bounds":"flush","hconcat":[
{"transform":[{"filter":{"field":"i","equal":"MSEG161"}}],"layer":[{"mark":"line","encoding":{"x":{"field":"x","type":"quantitative","scale":{"domain":[-6.84,6.84],"nice":false},"axis":null},"y":{"field":"p","type":"quantitative","scale":{"domain":[-0.11,1.24],"nice":false},"axis":{"orient":"left","values":[0,0.2,0.4,0.6,0.8,1],"labels":false,"title":null}}}},{"transform":[{"filter":"datum.x==-6"}],"mark":"rect","encoding":{"y":{"datum":1.1,"axis":{"orient":"left","values":[0,0.2,0.4,0.6,0.8,1],"labels":false,"title":null}},"y2":{"datum":1.24}}},{"transform":[{"filter":"datum.x==-6"}],"mark":"text","encoding":{"y":{"datum":1.17,"axis":{"orient":"left","values":[0,0.2,0.4,0.6,0.8,1],"labels":false,"title":null}},"text":{"field":"i"}}}]},
{"transform":[{"filter":{"field":"i","equal":"MSEG162"}}],"layer":[{"mark":"line","encoding":{"x":{"field":"x","type":"quantitative","scale":{"domain":[-6.84,6.84],"nice":false},"axis":null},"y":{"field":"p","type":"quantitative","scale":{"domain":[-0.11,1.24],"nice":false},"axis":null}}},{"transform":[{"filter":"datum.x==-6"}],"mark":"rect","encoding":{"y":{"datum":1.1,"axis":null},"y2":{"datum":1.24}}},{"transform":[{"filter":"datum.x==-6"}],"mark":"text","encoding":{"y":{"datum":1.17,"axis":null},"text":{"field":"i"}}}]},
{"transform":[{"filter":{"field":"i","equal":"MSEG164"}}],"layer":[{"mark":"line","encoding":{"x":{"field":"x","type":"quantitative","scale":{"domain":[-6.84,6.84],"nice":false},"axis":null},"y":{"field":"p","type":"quantitative","scale":{"domain":[-0.11,1.24],"nice":false},"axis":null}}},{"transform":[{"filter":"datum.x==-6"}],"mark":"rect","encoding":{"y":{"datum":1.1,"axis":null},"y2":{"datum":1.24}}},{"transform":[{"filter":"datum.x==-6"}],"mark":"text","encoding":{"y":{"datum":1.17,"axis":null},"text":{"field":"i"}}}]},
{"transform":[{"filter":{"field":"i","equal":"MSEG165"}}],"layer":[{"mark":"line","encoding":{"x":{"field":"x","type":"quantitative","scale":{"domain":[-6.84,6.84],"nice":false},"axis":null},"y":{"field":"p","type":"quantitative","scale":{"domain":[-0.11,1.24],"nice":false},"axis":null}}},{"transform":[{"filter":"datum.x==-6"}],"mark":"rect","encoding":{"y":{"datum":1.1,"axis":null},"y2":{"datum":1.24}}},{"transform":[{"filter":"datum.x==-6"}],"mark":"text","encoding":{"y":{"datum":1.17,"axis":null},"text":{"field":"i"}}}]},
{"transform":[{"filter":{"field":"i","equal":"MSEG166"}}],"layer":[{"mark":"line","encoding":{"x":{"field":"x","type":"quantitative","scale":{"domain":[-6.84,6.84],"nice":false},"axis":null},"y":{"field":"p","type":"quantitative","scale":{"domain":[-0.11,1.24],"nice":false},"axis":null}}},{"transform":[{"filter":"datum.x==-6"}],"mark":"rect","encoding":{"y":{"datum":1.1,"axis":null},"y2":{"datum":1.24}}},{"transform":[{"filter":"datum.x==-6"}],"mark":"text","encoding":{"y":{"datum":1.17,"axis":null},"text":{"field":"i"}}}]},
{"transform":[{"filter":{"field":"i","equal":"MSEG168"}}],"layer":[{"mark":"line","encoding":{"x":{"field":"x","type":"quantitative","scale":{"domain":[-6.84,6.84],"nice":false},"axis":null},"y":{"field":"p","type":"quantitative","scale":{"domain":[-0.11,1.24],"nice":false},"axis":null}}},{"transform":[{"filter":"datum.x==-6"}],"mark":"rect","encoding":{"y":{"datum":1.1,"axis":null},"y2":{"datum":1.24}}},{"transform":[{"filter":"datum.x==-6"}],"mark":"text","encoding":{"y":{"datum":1.17,"axis":null},"text":{"field":"i"}}}]},
{"transform":[{"filter":{"field":"i","equal":"MSEG17"}}],"layer":[{"mark":"line","encoding":{"x":{"field":"x","type":"quantitative","scale":{"domain":[-6.84,6.84],"nice":false},"axis":null},"y":{"field":"p","type":"quantitative","scale":{"domain":[-0.11,1.24],"nice":false},"axis":null}}},{"transform":[{"filter":"datum.x==-6"}],"mark":"rect","encoding":{"y":{"datum":1.1,"axis":null},"y2":{"datum":1.24}}},{"transform":[{"filter":"datum.x==-6"}],"mark":"text","encoding":{"y":{"datum":1.17,"axis":null},"text":{"field":"i"}}}]},
{"transform":[{"filter":{"field":"i","equal":"MSEG27"}}],"layer":[{"mark":"line","encoding":{"x":{"field":"x","type":"quantitative","scale":{"domain":[-6.84,6.84],"nice":false},"axis":null},"y":{"field":"p","type":"quantitative","scale":{"domain":[-0.11,1.24],"nice":false},"axis":null}}},{"transform":[{"filter":"datum.x==-6"}],"mark":"rect","encoding":{"y":{"datum":1.1,"axis":null},"y2":{"datum":1.24}}},{"transform":[{"filter":"datum.x==-6"}],"mark":"text","encoding":{"y":{"datum":1.17,"axis":null},"text":{"field":"i"}}}]},
{"transform":[{"filter":{"field":"i","equal":"MSAU29"}}],"layer":[{"mark":"line","encoding":{"x":{"field":"x","type":"quantitative","scale":{"domain":[-6.84,6.84],"nice":false},"axis":null},"y":{"field":"p","type":"quantitative","scale":{"domain":[-0.11,1.24],"nice":false},"axis":null}}},{"transform":[{"filter":"datum.x==-6"}],"mark":"rect","encoding":{"y":{"datum":1.1,"axis":null},"y2":{"datum":1.24}}},{"transform":[{"filter":"datum.x==-6"}],"mark":"text","encoding":{"y":{"datum":1.17,"axis":null},"text":{"field":"i"}}}]},
{"transform":[{"filter":{"field":"i","equal":"MSAU31"}}],"layer":[{"mark":"line","encoding":{"x":{"field":"x","type":"quantitative","scale":{"domain":[-6.84,6.84],"nice":false},"axis":null},"y":{"field":"p","type":"quantitative","scale":{"domain":[-0.11,1.24],"nice":false},"axis":{"orient":"right","values":[0,0.2,0.4,0.6,0.8,1],"format":".1f","title":null}}}},{"transform":[{"filter":"datum.x==-6"}],"mark":"rect","encoding":{"y":{"datum":1.1,"axis":{"orient":"right","values":[0,0.2,0.4,0.6,0.8,1],"format":".1f","title":null}},"y2":{"datum":1.24}}},{"transform":[{"filter":"datum.x==-6"}],"mark":"text","encoding":{"y":{"datum":1.17,"axis":{"orient":"right","values":[0,0.2,0.4,0.6,0.8,1],"format":".1f","title":null}},"text":{"field":"i"}}}]}
]},
{"spacing":0,"bounds":"flush","hconcat":[
{"transform":[{"filter":{"field":"i","equal":"MDHU571"}}],"layer":[{"mark":"line","encoding":{"x":{"field":"x","type":"quantitative","scale":{"domain":[-6.84,6.84],"nice":false},"axis":{"orient":"bottom","values":[-6,-4,-2,0,2,4,6],"labelExpr":"''+datum.value","labelPadding":11,"title":null}},"y":{"field":"p","type":"quantitative","scale":{"domain":[-0.11,1.24],"nice":false},"axis":{"orient":"left","values":[0,0.2,0.4,0.6,0.8,1],"format":".1f","title":null}}}},{"transform":[{"filter":"datum.x==-6"}],"mark":"rect","encoding":{"y":{"datum":1.1,"axis":{"orient":"left","values":[0,0.2,0.4,0.6,0.8,1],"format":".1f","title":null}},"y2":{"datum":1.24}}},{"transform":[{"filter":"datum.x==-6"}],"mark":"text","encoding":{"y":{"datum":1.17,"axis":{"orient":"left","values":[0,0.2,0.4,0.6,0.8,1],"format":".1f","title":null}},"text":{"field":"i"}}}]},
{"transform":[{"filter":{"field":"i","equal":"MDHU573"}}],"layer":[{"mark":"line","encoding":{"x":{"field":"x","type":"quantitative","scale":{"domain":[-6.84,6.84],"nice":false},"axis":{"orient":"bottom","values":[-6,-4,-2,0,2,4,6],"labels":false,"title":null}},"y":{"field":"p","type":"quantitative","scale":{"domain":[-0.11,1.24],"nice":false},"axis":null}}},{"transform":[{"filter":"datum.x==-6"}],"mark":"rect","encoding":{"y":{"datum":1.1,"axis":null},"y2":{"datum":1.24}}},{"transform":[{"filter":"datum.x==-6"}],"mark":"text","encoding":{"y":{"datum":1.17,"axis":null},"text":{"field":"i"}}}]},
{"transform":[{"filter":{"field":"i","equal":"MDHU731"}}],"layer":[{"mark":"line","encoding":{"x":{"field":"x","type":"quantitative","scale":{"domain":[-6.84,6.84],"nice":false},"axis":{"orient":"bottom","values":[-6,-4,-2,0,2,4,6],"labelExpr":"''+datum.value","labelPadding":11,"title":null}},"y":{"field":"p","type":"quantitative","scale":{"domain":[-0.11,1.24],"nice":false},"axis":null}}},{"transform":[{"filter":"datum.x==-6"}],"mark":"rect","encoding":{"y":{"datum":1.1,"axis":null},"y2":{"datum":1.24}}},{"transform":[{"filter":"datum.x==-6"}],"mark":"text","encoding":{"y":{"datum":1.17,"axis":null},"text":{"field":"i"}}}]},
{"transform":[{"filter":{"field":"i","equal":"MDHU546"}}],"layer":[{"mark":"line","encoding":{"x":{"field":"x","type":"quantitative","scale":{"domain":[-6.84,6.84],"nice":false},"axis":{"orient":"bottom","values":[-6,-4,-2,0,2,4,6],"labels":false,"title":null}},"y":{"field":"p","type":"quantitative","scale":{"domain":[-0.11,1.24],"nice":false},"axis":null}}},{"transform":[{"filter":"datum.x==-6"}],"mark":"rect","encoding":{"y":{"datum":1.1,"axis":null},"y2":{"datum":1.24}}},{"transform":[{"filter":"datum.x==-6"}],"mark":"text","encoding":{"y":{"datum":1.17,"axis":null},"text":{"field":"i"}}}]},
{"transform":[{"filter":{"field":"i","equal":"MDHU552"}}],"layer":[{"mark":"line","encoding":{"x":{"field":"x","type":"quantitative","scale":{"domain":[-6.84,6.84],"nice":false},"axis":{"orient":"bottom","values":[-6,-4,-2,0,2,4,6],"labelExpr":"''+datum.value","labelPadding":11,"title":null}},"y":{"field":"p","type":"quantitative","scale":{"domain":[-0.11,1.24],"nice":false},"axis":null}}},{"transform":[{"filter":"datum.x==-6"}],"mark":"rect","encoding":{"y":{"datum":1.1,"axis":null},"y2":{"datum":1.24}}},{"transform":[{"filter":"datum.x==-6"}],"mark":"text","encoding":{"y":{"datum":1.17,"axis":null},"text":{"field":"i"}}}]},
{"transform":[{"filter":{"field":"i","equal":"MDHU555"}}],"layer":[{"mark":"line","encoding":{"x":{"field":"x","type":"quantitative","scale":{"domain":[-6.84,6.84],"nice":false},"axis":{"orient":"bottom","values":[-6,-4,-2,0,2,4,6],"labels":false,"title":null}},"y":{"field":"p","type":"quantitative","scale":{"domain":[-0.11,1.24],"nice":false},"axis":null}}},{"transform":[{"filter":"datum.x==-6"}],"mark":"rect","encoding":{"y":{"datum":1.1,"axis":null},"y2":{"datum":1.24}}},{"transform":[{"filter":"datum.x==-6"}],"mark":"text","encoding":{"y":{"datum":1.17,"axis":null},"text":{"field":"i"}}}]},
{"transform":[{"filter":{"field":"i","equal":"MDHU561"}}],"layer":[{"mark":"line","encoding":{"x":{"field":"x","type":"quantitative","scale":{"domain":[-6.84,6.84],"nice":false},"axis":{"orient":"bottom","values":[-6,-4,-2,0,2,4,6],"labelExpr":"''+datum.value","labelPadding":11,"title":null}},"y":{"field":"p","type":"quantitative","scale":{"domain":[-0.11,1.24],"nice":false},"axis":null}}},{"transform":[{"filter":"datum.x==-6"}],"mark":"rect","encoding":{"y":{"datum":1.1,"axis":null},"y2":{"datum":1.24}}},{"transform":[{"filter":"datum.x==-6"}],"mark":"text","encoding":{"y":{"datum":1.17,"axis":null},"text":{"field":"i"}}}]},
{"transform":[{"filter":{"field":"i","equal":"MDHU595"}}],"layer":[{"mark":"line","encoding":{"x":{"field":"x","type":"quantitative","scale":{"domain":[-6.84,6.84],"nice":false},"axis":{"orient":"bottom","values":[-6,-4,-2,0,2,4,6],"labels":false,"title":null}},"y":{"field":"p","type":"quantitative","scale":{"domain":[-0.11,1.24],"nice":false},"axis":null}}},{"transform":[{"filter":"datum.x==-6"}],"mark":"rect","encoding":{"y":{"datum":1.1,"axis":null},"y2":{"datum":1.24}}},{"transform":[{"filter":"datum.x==-6"}],"mark":"text","encoding":{"y":{"datum":1.17,"axis":null},"text":{"field":"i"}}}]},
{"transform":[{"filter":{"field":"i","equal":"MDHU603"}}],"layer":[{"mark":"line","encoding":{"x":{"field":"x","type":"quantitative","scale":{"domain":[-6.84,6.84],"nice":false},"axis":{"orient":"bottom","values":[-6,-4,-2,0,2,4,6],"labelExpr":"''+datum.value","labelPadding":11,"title":null}},"y":{"field":"p","type":"quantitative","scale":{"domain":[-0.11,1.24],"nice":false},"axis":null}}},{"transform":[{"filter":"datum.x==-6"}],"mark":"rect","encoding":{"y":{"datum":1.1,"axis":null},"y2":{"datum":1.24}}},{"transform":[{"filter":"datum.x==-6"}],"mark":"text","encoding":{"y":{"datum":1.17,"axis":null},"text":{"field":"i"}}}]},
{"transform":[{"filter":{"field":"i","equal":"MDHU604"}}],"layer":[{"mark":"line","encoding":{"x":{"field":"x","type":"quantitative","scale":{"domain":[-6.84,6.84],"nice":false},"axis":{"orient":"bottom","values":[-6,-4,-2,0,2,4,6],"labels":false,"title":null}},"y":{"field":"p","type":"quantitative","scale":{"domain":[-0.11,1.24],"nice":false},"axis":{"orient":"right","values":[0,0.2,0.4,0.6,0.8,1],"labels":false,"title":null}}}},{"transform":[{"filter":"datum.x==-6"}],"mark":"rect","encoding":{"y":{"datum":1.1,"axis":{"orient":"right","values":[0,0.2,0.4,0.6,0.8,1],"labels":false,"title":null}},"y2":{"datum":1.24}}},{"transform":[{"filter":"datum.x==-6"}],"mark":"text","encoding":{"y":{"datum":1.17,"axis":{"orient":"right","values":[0,0.2,0.4,0.6,0.8,1],"labels":false,"title":null}},"text":{"field":"i"}}}]}
]}
]}],
"config":{
 "view":{"stroke":"#000","strokeWidth":1,"continuousWidth":106.9,"continuousHeight":134.4},
 "concat":{"spacing":0},
 "axis":{"grid":false,"domain":false,"ticks":true,"tickColor":"#000","tickSize":8,"tickWidth":1,"labelFont":"Liberation Sans","labelFontSize":12,"labelColor":"#333","labelPadding":8,"labelFlush":false},
 "axisX":{"labelAngle":0},
 "line":{"stroke":"#9a1c1c","strokeWidth":1.2,"interpolate":"monotone"},
 "rect":{"fill":"#a3cbe2","stroke":"#000","strokeWidth":1},
 "text":{"font":"Liberation Sans","fontSize":10,"fill":"#333"},
 "title":{"font":"Liberation Sans","fontSize":13,"fontWeight":"normal","color":"#333","anchor":"middle"}
}
}
